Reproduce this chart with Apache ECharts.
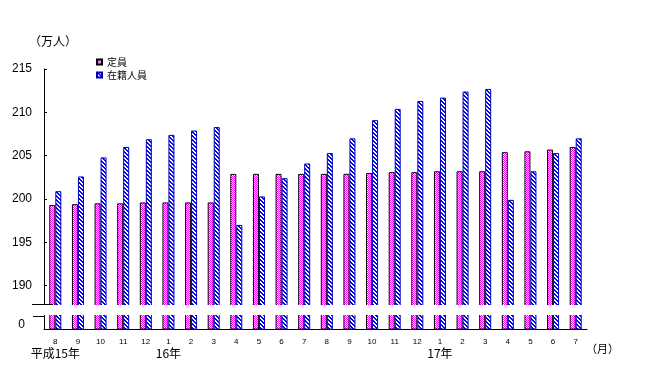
<!DOCTYPE html>
<html>
<head>
<meta charset="utf-8">
<script src="https://cdn.jsdelivr.net/npm/echarts@6/dist/echarts.min.js"></script>
<style>
html,body{margin:0;padding:0;background:#fff;}
#c{width:653px;height:386px;}
</style>
</head>
<body>
<div id="c"></div>
<script>
// ---- data ----
const months = ['8','9','10','11','12','1','2','3','4','5','6','7','8','9','10','11','12','1','2','3','4','5','6','7'];
const yearLabels = ['平成15年','','','','','16年','','','','','','','','','','','','17年','','','','','',''];
const teiin = [199.3,199.4,199.5,199.5,199.6,199.6,199.6,199.6,202.9,202.9,202.9,202.9,202.9,202.9,203.0,203.1,203.1,203.2,203.2,203.2,205.4,205.5,205.7,206.0];
const zaiseki = [200.9,202.6,204.8,206.0,206.9,207.4,207.9,208.3,197.0,200.3,202.4,204.1,205.3,207.0,209.1,210.4,211.3,211.7,212.4,212.7,199.9,203.2,205.3,207.0];
const seriesNames = ['定員','在籍人員'];
const yTicks = [185,190,195,200,205,210,215]; // 185 position shows the broken-axis "0"

// ---- patterns ----
function makeCheck(){
  const c=document.createElement('canvas');c.width=2;c.height=2;
  const g=c.getContext('2d');g.fillStyle='#ffffff';g.fillRect(0,0,2,2);
  g.fillStyle='#ff00ff';g.fillRect(0,0,1,1);g.fillRect(1,1,1,1);
  return c;
}
function makeHatch(){
  const c=document.createElement('canvas');c.width=4;c.height=4;
  const g=c.getContext('2d');g.fillStyle='#ffffff';g.fillRect(0,0,4,4);
  g.fillStyle='#0000ff';
  for(let y=0;y<4;y++){for(let x=0;x<4;x++){const d=((x-y)%4+4)%4;if(d===0||d===1)g.fillRect(x,y,1,1);}}
  return c;
}

const chart = echarts.init(document.getElementById('c'), null, {renderer:'canvas'});
const option = {
  animation:false,
  backgroundColor:'#ffffff',
  grid:{left:44,right:66,top:69,bottom:57,containLabel:false},
  legend:{
    data:seriesNames, orient:'vertical', left:96, top:57, padding:0,
    itemWidth:5, itemHeight:5, itemGap:3, icon:'rect',
    textStyle:{fontSize:10,color:'#000',fontFamily:'"Noto Sans CJK JP"'}
  },
  xAxis:{
    type:'category', data:months,
    axisLine:{lineStyle:{color:'#000',width:1}},
    axisTick:{inside:true,length:2,interval:0,lineStyle:{color:'#000'}},
    axisLabel:{
      interval:0, margin:8, color:'#000',
      formatter:function(v,i){ return yearLabels[i] ? '{m|'+v+'}\n{y|'+yearLabels[i]+'}' : '{m|'+v+'}'; },
      rich:{
        m:{fontSize:8,lineHeight:10,fontFamily:'"Liberation Sans", Arial',color:'#000'},
        y:{fontSize:12,lineHeight:12,fontFamily:'"Noto Sans CJK JP"',color:'#000'}
      }
    }
  },
  yAxis:{
    type:'value', min:185, max:215, interval:5,
    splitLine:{show:false},
    axisLine:{show:true,lineStyle:{color:'#000',width:1}},
    axisTick:{show:true,inside:true,length:3,lineStyle:{color:'#000'}},
    axisLabel:{
      margin:12, color:'#000', fontSize:12, fontFamily:'"Liberation Sans", Arial',
      formatter:function(v){ return v===yTicks[0] ? '{z|0}' : String(v); },
      rich:{z:{fontSize:12,fontFamily:'"Liberation Sans", Arial',color:'#000',padding:[0,7,8,0]}}
    }
  },
  series:[
    {name:seriesNames[0],type:'bar',data:teiin,barWidth:6,barGap:'0%',clip:true,
     itemStyle:{color:{image:makeCheck(),repeat:'repeat'},borderColor:'#000',borderWidth:1}},
    {name:seriesNames[1],type:'bar',data:zaiseki,barWidth:6,clip:true,
     itemStyle:{color:{image:makeHatch(),repeat:'repeat'},borderColor:'#0000b0',borderWidth:1}}
  ],
  graphic:[
    {type:'rect',z:100,shape:{x:40,y:305,width:552,height:10},style:{fill:'#fff'}},
    {type:'line',z:101,shape:{x1:32,y1:304.5,x2:53,y2:304.5},style:{stroke:'#000',lineWidth:1}},
    {type:'line',z:101,shape:{x1:33,y1:316.5,x2:45,y2:316.5},style:{stroke:'#000',lineWidth:1}},
    {type:'text',z:101,left:29,top:35,style:{text:'（万人）',fontSize:12,fontFamily:'"Noto Sans CJK JP"',fill:'#000'}},
    {type:'text',z:101,left:586,top:343,style:{text:'（月）',fontSize:11,fontFamily:'"Noto Sans CJK JP"',fill:'#000'}}
  ]
};
chart.setOption(option);
</script>
</body>
</html>
